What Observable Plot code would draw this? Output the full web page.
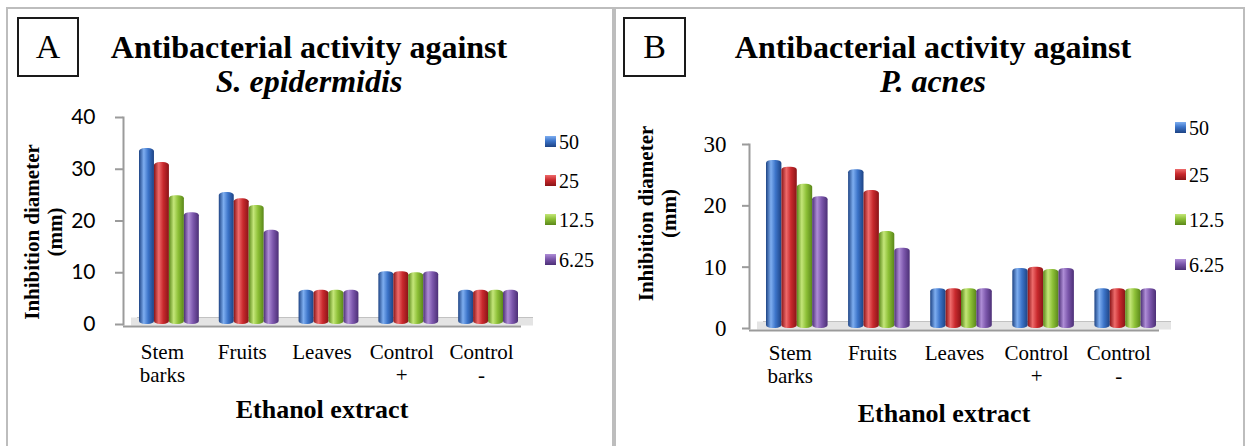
<!DOCTYPE html>
<html>
<head>
<meta charset="utf-8">
<script src="https://cdn.jsdelivr.net/npm/d3@7"></script>
<script src="https://cdn.jsdelivr.net/npm/@observablehq/plot@0.6"></script>
<style>
  html, body { margin: 0; padding: 0; background: #fff; width: 1247px; height: 446px; overflow: hidden; }
  body { position: relative; font-family: "Liberation Serif", "Times New Roman", serif; color: #000; }
  .panel { position: absolute; top: 7px; height: 460px; border: 2px solid #bdbdbd; border-bottom: none; box-sizing: border-box; }
  .box { position: absolute; top: 17px; height: 60px; border: 2px solid #1a1a1a; box-sizing: border-box;
         font-size: 34px; line-height: 56px; text-align: center; }
  .title { position: absolute; top: 30px; font-weight: bold; font-size: 32px; line-height: 34px; text-align: center; white-space: nowrap; }
  .title i { font-style: italic; }
  .chart { position: absolute; top: 0; }
  .chart svg text { font-family: "Liberation Serif", "Times New Roman", serif; }
  .chart svg .ysans text { font-family: Lato, "Liberation Sans", sans-serif; }
  .legend { position: absolute; font-size: 20px; }
  .legend .item { position: absolute; left: 0; white-space: nowrap; height: 20px; line-height: 20px; }
  .legend .sw { position: absolute; left: 0; top: 4px; width: 11px; height: 11px; }
  .legend .lab { position: absolute; left: 14px; top: 0; }
</style>
</head>
<body>
<svg width="0" height="0" style="position:absolute">
  <defs id="gradDefs"></defs>
</svg>
<div class="panel" style="left:6px; width:608px;"></div>
<div class="panel" style="left:614px; width:631px;"></div>
<div class="box" style="left:17px; width:62px;">A</div>
<div class="box" style="left:623px; width:63px;">B</div>
<div class="title" id="titleA" style="left:109px; width:400px;"></div>
<div class="title" id="titleB" style="left:733px; width:400px;"></div>
<div class="chart" id="chartA" style="left:0px;"></div>
<div class="chart" id="chartB" style="left:615px;"></div>
<div class="legend" id="legendA" style="left:545px; top:0px;"></div>
<div class="legend" id="legendB" style="left:1175px; top:0px;"></div>
<script>
// ---------- data ----------
const categories = ["Stem barks", "Fruits", "Leaves", "Control +", "Control -"];
const xTickLabels = ["Stem\nbarks", "Fruits", "Leaves", "Control\n+", "Control\n-"];
const seriesNames = ["50", "25", "12.5", "6.25"];

// Panel A: S. epidermidis (mm)
const epi_50   = [34.0, 25.5, 6.6, 10.2, 6.6];
const epi_25   = [31.3, 24.3, 6.6, 10.2, 6.6];
const epi_12_5 = [24.9, 23.0, 6.6, 10.0, 6.6];
const epi_6_25 = [21.6, 18.2, 6.6, 10.2, 6.6];

// Panel B: P. acnes (mm)
const acn_50   = [27.4, 25.9, 6.5, 9.8, 6.5];
const acn_25   = [26.3, 22.5, 6.5, 10.0, 6.5];
const acn_12_5 = [23.5, 15.8, 6.5, 9.6, 6.5];
const acn_6_25 = [21.5, 13.1, 6.5, 9.8, 6.5];

const yTicksA = [0, 10, 20, 30, 40];
const yTicksB = [0, 10, 20, 30];

const titleLine1 = "Antibacterial activity against";
const speciesA = "S. epidermidis";
const speciesB = "P. acnes";
const yTitle = "Inhibition diameter\n(mm)";
const xTitle = "Ethanol extract";

const SERIF = "'Liberation Serif', 'Times New Roman', serif";
const SANS = "Lato, 'Liberation Sans', sans-serif";

// ---------- colours (3D-like cylinder gradients) ----------
const palette = [
  {dark: "#1d4384", base: "#3c74c9", light: "#7eaef0"},
  {dark: "#8a1417", base: "#c9292d", light: "#ee6b6b"},
  {dark: "#5a8719", base: "#8dc037", light: "#c4e679"},
  {dark: "#4c2f76", base: "#7c57ac", light: "#ae8dd6"}
];
const defs = d3.select("#gradDefs");
palette.forEach((c, i) => {
  const g = defs.append("linearGradient").attr("id", "grad" + i).attr("x1", "0").attr("x2", "1").attr("y1", "0").attr("y2", "0");
  g.append("stop").attr("offset", "0%").attr("stop-color", c.dark);
  g.append("stop").attr("offset", "32%").attr("stop-color", c.light);
  g.append("stop").attr("offset", "62%").attr("stop-color", c.base);
  g.append("stop").attr("offset", "100%").attr("stop-color", c.dark);
});

function rowsFrom(valuesBySeries) {
  return categories.flatMap((cat, ci) =>
    seriesNames.map((s, si) => ({cat, series: s, si, value: valuesBySeries[si][ci]})));
}

function makeChart(cfg) {
  const rows = rowsFrom(cfg.values);
  const xOpts = {type: "band", domain: categories, range: cfg.xRange, paddingInner: 0.25, paddingOuter: 0, round: false};
  const bw = Plot.scale({x: xOpts}).bandwidth;
  const w = bw / 4;
  const bars = seriesNames.map((s, i) =>
    Plot.barY(rows.filter(d => d.series === s), {
      x: "cat", y: "value", fill: `url(#grad${i})`,
      insetLeft: i * w, insetRight: (3 - i) * w, rx: 6, ry: 3
    }));
  return Plot.plot({
    width: cfg.width, height: cfg.height,
    marginTop: cfg.marginTop, marginBottom: cfg.marginBottom,
    marginLeft: cfg.marginLeft, marginRight: cfg.marginRight,
    style: {fontFamily: SERIF, background: "transparent", overflow: "visible", color: "#000"},
    x: {domain: categories, range: cfg.xRange, paddingInner: 0.25, paddingOuter: 0, round: false},
    y: {domain: cfg.yDomain},
    marks: [
      // floor
      Plot.ruleY([0], {stroke: "#e4e4e4", strokeWidth: 8, dy: -3, insetLeft: 8, insetRight: -15}),
      Plot.ruleY([0], {stroke: "#c2c2c2", strokeWidth: 1, dy: -7, insetLeft: 14, insetRight: -15}),
      Plot.ruleY([0], {stroke: "#9b9b9b", strokeWidth: 2, dy: 2, insetRight: -3}),
      ...bars,
      Plot.frame({anchor: "left", stroke: "#9b9b9b", strokeWidth: 2}),
      Plot.axisY({ticks: cfg.yTicks, tickSize: cfg.tickSize, tickPadding: cfg.tickPadding,
        stroke: "#9b9b9b", strokeWidth: 2, fill: "#000", fontSize: cfg.tickFontSize, fontFamily: cfg.tickFont,
        className: cfg.tickClass, tickFormat: d => String(d), label: null}),
      Plot.axisX({tickSize: 0, tickPadding: cfg.xTickPadding, fontSize: 21, lineHeight: 1.1, dx: -7, fill: "#000",
        fontFamily: SERIF, tickFormat: d => xTickLabels[categories.indexOf(d)], label: null}),
      Plot.text([yTitle], {frameAnchor: "left", text: d => d, rotate: -90, fontSize: 21, fontWeight: "bold",
        fontFamily: SERIF, textAnchor: "middle", lineHeight: 1.1, lineAnchor: "middle",
        dx: cfg.yLabelDx, dy: cfg.yLabelDy}),
      Plot.text([xTitle], {frameAnchor: "bottom", text: d => d, fontSize: 26, fontWeight: "bold",
        fontFamily: SERIF, textAnchor: "middle", lineAnchor: "top", dy: cfg.xTitleDy, dx: cfg.xTitleDx})
    ]
  });
}

const chartA = makeChart({
  values: [epi_50, epi_25, epi_12_5, epi_6_25],
  width: 612, height: 446, marginTop: 117, marginBottom: 122, marginLeft: 123, marginRight: 94,
  xRange: [139, 518], yDomain: [0, 40], yTicks: yTicksA,
  tickFont: SANS, tickClass: "ysans", tickFontSize: 21, tickSize: 8, tickPadding: 20, xTickPadding: 18,
  yLabelDx: -80, yLabelDy: 11, xTitleDy: 75, xTitleDx: 1
});
document.getElementById("chartA").append(chartA);

const chartB = makeChart({
  values: [acn_50, acn_25, acn_12_5, acn_6_25],
  width: 630, height: 446, marginTop: 144, marginBottom: 118, marginLeft: 134, marginRight: 89,
  xRange: [151, 541], yDomain: [0, 30], yTicks: yTicksB,
  tickFont: SERIF, tickClass: "yserif", tickFontSize: 23, tickSize: 7, tickPadding: 16, xTickPadding: 15,
  yLabelDx: -92, yLabelDy: -23, xTitleDy: 75, xTitleDx: -9
});
document.getElementById("chartB").append(chartB);

// titles
function setTitle(id, species) {
  const el = document.getElementById(id);
  el.append(document.createTextNode(titleLine1));
  el.append(document.createElement("br"));
  const it = document.createElement("i");
  it.textContent = species;
  el.append(it);
}
setTitle("titleA", speciesA);
setTitle("titleB", speciesB);

// legends
function makeLegend(id, centers) {
  const el = document.getElementById(id);
  seriesNames.forEach((s, i) => {
    const c = palette[i];
    const item = document.createElement("div");
    item.className = "item";
    item.style.top = (centers[i] - 10) + "px";
    const sw = document.createElement("div");
    sw.className = "sw";
    sw.style.background = `linear-gradient(180deg, ${c.light} 0%, ${c.base} 45%, ${c.dark} 100%)`;
    const lab = document.createElement("span");
    lab.className = "lab";
    lab.textContent = s;
    item.append(sw, lab);
    el.append(item);
  });
}
makeLegend("legendA", [142, 181, 220, 260]);
makeLegend("legendB", [128, 175, 220, 265]);
</script>
</body>
</html>
